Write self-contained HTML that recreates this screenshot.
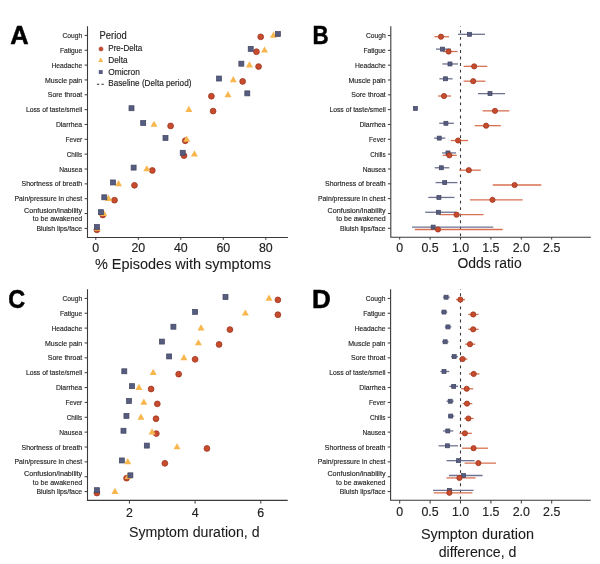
<!DOCTYPE html>
<html><head><meta charset="utf-8"><style>
html,body{margin:0;padding:0;background:#fff;width:600px;height:564px;overflow:hidden}
svg{display:block;filter:blur(0.3px)}
text{font-family:"Liberation Sans",sans-serif}
.l{font-size:7.8px;fill:#222222;stroke:#222222;stroke-width:0.15px}
.n{font-size:12.4px;fill:#222;stroke:#222;stroke-width:0.15px}
.t{font-size:14px;fill:#1a1a1a;stroke:#1a1a1a;stroke-width:0.08px}
.L{font-size:26px;font-weight:bold;fill:#000;stroke:#000;stroke-width:0.5px}
.lg1{font-size:10.5px;fill:#222;stroke:#222;stroke-width:0.15px}
.lg{font-size:8.6px;fill:#222;stroke:#222;stroke-width:0.15px}
.ax{fill:none;stroke:#3a3a3a;stroke-width:1.1}
.tk{fill:none;stroke:#3a3a3a;stroke-width:1.0}
</style></head><body>
<svg width="600" height="564" viewBox="0 0 600 564">
<path d="M87.5 26.3V237.5H287.9" class="ax"/>
<path d="M84.6 35.4H87.5M84.6 50.25H87.5M84.6 65.09H87.5M84.6 79.94H87.5M84.6 94.78H87.5M84.6 109.63H87.5M84.6 124.48H87.5M84.6 139.32H87.5M84.6 154.17H87.5M84.6 169.01H87.5M84.6 183.86H87.5M84.6 198.71H87.5M84.6 213.55H87.5M84.6 228.4H87.5" class="tk"/>
<text x="82.2" y="38" text-anchor="end" textLength="19.7" lengthAdjust="spacingAndGlyphs" class="l">Cough</text>
<text x="82.2" y="52.85" text-anchor="end" textLength="22.3" lengthAdjust="spacingAndGlyphs" class="l">Fatigue</text>
<text x="82.2" y="67.69" text-anchor="end" textLength="30.8" lengthAdjust="spacingAndGlyphs" class="l">Headache</text>
<text x="82.2" y="82.54" text-anchor="end" textLength="37.2" lengthAdjust="spacingAndGlyphs" class="l">Muscle pain</text>
<text x="82.2" y="97.38" text-anchor="end" textLength="34.4" lengthAdjust="spacingAndGlyphs" class="l">Sore throat</text>
<text x="82.2" y="112.23" text-anchor="end" textLength="56.3" lengthAdjust="spacingAndGlyphs" class="l">Loss of taste/smell</text>
<text x="82.2" y="127.08" text-anchor="end" textLength="26.3" lengthAdjust="spacingAndGlyphs" class="l">Diarrhea</text>
<text x="82.2" y="141.92" text-anchor="end" textLength="16.6" lengthAdjust="spacingAndGlyphs" class="l">Fever</text>
<text x="82.2" y="156.77" text-anchor="end" textLength="15.5" lengthAdjust="spacingAndGlyphs" class="l">Chills</text>
<text x="82.2" y="171.61" text-anchor="end" textLength="23.0" lengthAdjust="spacingAndGlyphs" class="l">Nausea</text>
<text x="82.2" y="186.46" text-anchor="end" textLength="60.7" lengthAdjust="spacingAndGlyphs" class="l">Shortness of breath</text>
<text x="82.2" y="201.31" text-anchor="end" textLength="67.7" lengthAdjust="spacingAndGlyphs" class="l">Pain/pressure in chest</text>
<text x="82.2" y="212.95" text-anchor="end" textLength="58.1" lengthAdjust="spacingAndGlyphs" class="l">Confusion/inability</text>
<text x="82.2" y="221.35" text-anchor="end" textLength="49.5" lengthAdjust="spacingAndGlyphs" class="l">to be awakened</text>
<text x="82.2" y="231" text-anchor="end" textLength="45.8" lengthAdjust="spacingAndGlyphs" class="l">Bluish lips/face</text>
<path d="M95.8 237.5v2.4M138.3 237.5v2.4M180.8 237.5v2.4M223.3 237.5v2.4M265.8 237.5v2.4" class="tk"/>
<text x="95.8" y="251.8" text-anchor="middle" class="n">0</text>
<text x="138.3" y="251.8" text-anchor="middle" class="n">20</text>
<text x="180.8" y="251.8" text-anchor="middle" class="n">40</text>
<text x="223.3" y="251.8" text-anchor="middle" class="n">60</text>
<text x="265.8" y="251.8" text-anchor="middle" class="n">80</text>
<circle cx="260.7" cy="36.85" r="2.9" fill="#c64c2d" stroke="#9e3621" stroke-width="0.8"/>
<path d="M273.45 31.56L276.95 37.75H269.95Z" fill="#f7b64e"/>
<rect x="275.41" y="31.5" width="5.0" height="5.0" fill="#575d80" stroke="#3f445e" stroke-width="0.7"/>
<circle cx="256.45" cy="51.7" r="2.9" fill="#c64c2d" stroke="#9e3621" stroke-width="0.8"/>
<path d="M264.53 46.41L268.03 52.6H261.03Z" fill="#f7b64e"/>
<rect x="248.21" y="46.35" width="5.0" height="5.0" fill="#575d80" stroke="#3f445e" stroke-width="0.7"/>
<circle cx="258.57" cy="66.54" r="2.9" fill="#c64c2d" stroke="#9e3621" stroke-width="0.8"/>
<path d="M249.44 61.25L252.94 67.45H245.94Z" fill="#f7b64e"/>
<rect x="238.86" y="61.19" width="5.0" height="5.0" fill="#575d80" stroke="#3f445e" stroke-width="0.7"/>
<circle cx="242.64" cy="81.39" r="2.9" fill="#c64c2d" stroke="#9e3621" stroke-width="0.8"/>
<path d="M233.29 76.1L236.79 82.29H229.79Z" fill="#f7b64e"/>
<rect x="216.55" y="76.04" width="5.0" height="5.0" fill="#575d80" stroke="#3f445e" stroke-width="0.7"/>
<circle cx="211.4" cy="96.23" r="2.9" fill="#c64c2d" stroke="#9e3621" stroke-width="0.8"/>
<path d="M227.98 90.94L231.48 97.14H224.48Z" fill="#f7b64e"/>
<rect x="244.81" y="90.88" width="5.0" height="5.0" fill="#575d80" stroke="#3f445e" stroke-width="0.7"/>
<circle cx="213.1" cy="111.08" r="2.9" fill="#c64c2d" stroke="#9e3621" stroke-width="0.8"/>
<path d="M188.88 105.79L192.38 111.98H185.38Z" fill="#f7b64e"/>
<rect x="129" y="105.73" width="5.0" height="5.0" fill="#575d80" stroke="#3f445e" stroke-width="0.7"/>
<circle cx="170.6" cy="125.93" r="2.9" fill="#c64c2d" stroke="#9e3621" stroke-width="0.8"/>
<path d="M154.02 120.64L157.52 126.83H150.52Z" fill="#f7b64e"/>
<rect x="140.69" y="120.58" width="5.0" height="5.0" fill="#575d80" stroke="#3f445e" stroke-width="0.7"/>
<circle cx="185.26" cy="140.77" r="2.9" fill="#c64c2d" stroke="#9e3621" stroke-width="0.8"/>
<path d="M186.75 135.48L190.25 141.68H183.25Z" fill="#f7b64e"/>
<rect x="163" y="135.42" width="5.0" height="5.0" fill="#575d80" stroke="#3f445e" stroke-width="0.7"/>
<circle cx="183.99" cy="155.62" r="2.9" fill="#c64c2d" stroke="#9e3621" stroke-width="0.8"/>
<path d="M194.4 150.33L197.9 156.52H190.9Z" fill="#f7b64e"/>
<rect x="180.21" y="150.27" width="5.0" height="5.0" fill="#575d80" stroke="#3f445e" stroke-width="0.7"/>
<circle cx="152.32" cy="170.46" r="2.9" fill="#c64c2d" stroke="#9e3621" stroke-width="0.8"/>
<path d="M146.8 165.17L150.3 171.37H143.3Z" fill="#f7b64e"/>
<rect x="131.12" y="165.11" width="5.0" height="5.0" fill="#575d80" stroke="#3f445e" stroke-width="0.7"/>
<circle cx="134.47" cy="185.31" r="2.9" fill="#c64c2d" stroke="#9e3621" stroke-width="0.8"/>
<path d="M118.54 180.02L122.04 186.21H115.04Z" fill="#f7b64e"/>
<rect x="110.51" y="179.96" width="5.0" height="5.0" fill="#575d80" stroke="#3f445e" stroke-width="0.7"/>
<circle cx="114.5" cy="200.16" r="2.9" fill="#c64c2d" stroke="#9e3621" stroke-width="0.8"/>
<path d="M108.55 194.87L112.05 201.06H105.05Z" fill="#f7b64e"/>
<rect x="101.8" y="194.81" width="5.0" height="5.0" fill="#575d80" stroke="#3f445e" stroke-width="0.7"/>
<circle cx="102.81" cy="215" r="2.9" fill="#c64c2d" stroke="#9e3621" stroke-width="0.8"/>
<path d="M103.66 209.71L107.16 215.91H100.16Z" fill="#f7b64e"/>
<rect x="98.4" y="209.65" width="5.0" height="5.0" fill="#575d80" stroke="#3f445e" stroke-width="0.7"/>
<circle cx="96.86" cy="229.85" r="2.9" fill="#c64c2d" stroke="#9e3621" stroke-width="0.8"/>
<path d="M97.29 224.56L100.79 230.75H93.79Z" fill="#f7b64e"/>
<rect x="94.36" y="224.5" width="5.0" height="5.0" fill="#575d80" stroke="#3f445e" stroke-width="0.7"/>
<path d="M87.5 289.3V500.4H287.7" class="ax"/>
<path d="M84.6 298.4H87.5M84.6 313.26H87.5M84.6 328.12H87.5M84.6 342.98H87.5M84.6 357.84H87.5M84.6 372.7H87.5M84.6 387.56H87.5M84.6 402.42H87.5M84.6 417.28H87.5M84.6 432.14H87.5M84.6 447H87.5M84.6 461.86H87.5M84.6 476.72H87.5M84.6 491.58H87.5" class="tk"/>
<text x="82.2" y="301" text-anchor="end" textLength="19.7" lengthAdjust="spacingAndGlyphs" class="l">Cough</text>
<text x="82.2" y="315.86" text-anchor="end" textLength="22.3" lengthAdjust="spacingAndGlyphs" class="l">Fatigue</text>
<text x="82.2" y="330.72" text-anchor="end" textLength="30.8" lengthAdjust="spacingAndGlyphs" class="l">Headache</text>
<text x="82.2" y="345.58" text-anchor="end" textLength="37.2" lengthAdjust="spacingAndGlyphs" class="l">Muscle pain</text>
<text x="82.2" y="360.44" text-anchor="end" textLength="34.4" lengthAdjust="spacingAndGlyphs" class="l">Sore throat</text>
<text x="82.2" y="375.3" text-anchor="end" textLength="56.3" lengthAdjust="spacingAndGlyphs" class="l">Loss of taste/smell</text>
<text x="82.2" y="390.16" text-anchor="end" textLength="26.3" lengthAdjust="spacingAndGlyphs" class="l">Diarrhea</text>
<text x="82.2" y="405.02" text-anchor="end" textLength="16.6" lengthAdjust="spacingAndGlyphs" class="l">Fever</text>
<text x="82.2" y="419.88" text-anchor="end" textLength="15.5" lengthAdjust="spacingAndGlyphs" class="l">Chills</text>
<text x="82.2" y="434.74" text-anchor="end" textLength="23.0" lengthAdjust="spacingAndGlyphs" class="l">Nausea</text>
<text x="82.2" y="449.6" text-anchor="end" textLength="60.7" lengthAdjust="spacingAndGlyphs" class="l">Shortness of breath</text>
<text x="82.2" y="464.46" text-anchor="end" textLength="67.7" lengthAdjust="spacingAndGlyphs" class="l">Pain/pressure in chest</text>
<text x="82.2" y="476.12" text-anchor="end" textLength="58.1" lengthAdjust="spacingAndGlyphs" class="l">Confusion/inability</text>
<text x="82.2" y="484.52" text-anchor="end" textLength="49.5" lengthAdjust="spacingAndGlyphs" class="l">to be awakened</text>
<text x="82.2" y="494.18" text-anchor="end" textLength="45.8" lengthAdjust="spacingAndGlyphs" class="l">Bluish lips/face</text>
<path d="M129.4 500.4v3.2M195.1 500.4v3.2M260.8 500.4v3.2" class="tk"/>
<text x="129.4" y="516.5" text-anchor="middle" class="n">2</text>
<text x="195.1" y="516.5" text-anchor="middle" class="n">4</text>
<text x="260.8" y="516.5" text-anchor="middle" class="n">6</text>
<circle cx="277.88" cy="299.85" r="2.9" fill="#c64c2d" stroke="#9e3621" stroke-width="0.8"/>
<path d="M269.01 294.56L272.51 300.75H265.51Z" fill="#f7b64e"/>
<rect x="222.99" y="294.5" width="5.0" height="5.0" fill="#575d80" stroke="#3f445e" stroke-width="0.7"/>
<circle cx="277.88" cy="314.71" r="2.9" fill="#c64c2d" stroke="#9e3621" stroke-width="0.8"/>
<path d="M245.36 309.42L248.86 315.61H241.86Z" fill="#f7b64e"/>
<rect x="192.6" y="309.36" width="5.0" height="5.0" fill="#575d80" stroke="#3f445e" stroke-width="0.7"/>
<circle cx="229.92" cy="329.57" r="2.9" fill="#c64c2d" stroke="#9e3621" stroke-width="0.8"/>
<path d="M201.01 324.28L204.51 330.47H197.51Z" fill="#f7b64e"/>
<rect x="170.92" y="324.22" width="5.0" height="5.0" fill="#575d80" stroke="#3f445e" stroke-width="0.7"/>
<circle cx="219.08" cy="344.43" r="2.9" fill="#c64c2d" stroke="#9e3621" stroke-width="0.8"/>
<path d="M198.38 339.14L201.88 345.33H194.88Z" fill="#f7b64e"/>
<rect x="159.42" y="339.08" width="5.0" height="5.0" fill="#575d80" stroke="#3f445e" stroke-width="0.7"/>
<circle cx="195.1" cy="359.29" r="2.9" fill="#c64c2d" stroke="#9e3621" stroke-width="0.8"/>
<path d="M183.93 354L187.43 360.19H180.43Z" fill="#f7b64e"/>
<rect x="166.65" y="353.94" width="5.0" height="5.0" fill="#575d80" stroke="#3f445e" stroke-width="0.7"/>
<circle cx="178.68" cy="374.15" r="2.9" fill="#c64c2d" stroke="#9e3621" stroke-width="0.8"/>
<path d="M153.18 368.86L156.68 375.05H149.68Z" fill="#f7b64e"/>
<rect x="121.81" y="368.8" width="5.0" height="5.0" fill="#575d80" stroke="#3f445e" stroke-width="0.7"/>
<circle cx="151.08" cy="389.01" r="2.9" fill="#c64c2d" stroke="#9e3621" stroke-width="0.8"/>
<path d="M138.93 383.72L142.43 389.91H135.43Z" fill="#f7b64e"/>
<rect x="129.53" y="383.66" width="5.0" height="5.0" fill="#575d80" stroke="#3f445e" stroke-width="0.7"/>
<circle cx="157.32" cy="403.87" r="2.9" fill="#c64c2d" stroke="#9e3621" stroke-width="0.8"/>
<path d="M143.85 398.58L147.35 404.77H140.35Z" fill="#f7b64e"/>
<rect x="126.57" y="398.52" width="5.0" height="5.0" fill="#575d80" stroke="#3f445e" stroke-width="0.7"/>
<circle cx="156.01" cy="418.73" r="2.9" fill="#c64c2d" stroke="#9e3621" stroke-width="0.8"/>
<path d="M140.9 413.44L144.4 419.63H137.4Z" fill="#f7b64e"/>
<rect x="123.94" y="413.38" width="5.0" height="5.0" fill="#575d80" stroke="#3f445e" stroke-width="0.7"/>
<circle cx="156.34" cy="433.59" r="2.9" fill="#c64c2d" stroke="#9e3621" stroke-width="0.8"/>
<path d="M152.07 428.3L155.57 434.49H148.57Z" fill="#f7b64e"/>
<rect x="120.99" y="428.24" width="5.0" height="5.0" fill="#575d80" stroke="#3f445e" stroke-width="0.7"/>
<circle cx="206.93" cy="448.45" r="2.9" fill="#c64c2d" stroke="#9e3621" stroke-width="0.8"/>
<path d="M177.03 443.16L180.53 449.35H173.53Z" fill="#f7b64e"/>
<rect x="144.31" y="443.1" width="5.0" height="5.0" fill="#575d80" stroke="#3f445e" stroke-width="0.7"/>
<circle cx="164.88" cy="463.31" r="2.9" fill="#c64c2d" stroke="#9e3621" stroke-width="0.8"/>
<path d="M127.76 458.02L131.26 464.21H124.26Z" fill="#f7b64e"/>
<rect x="119.34" y="457.96" width="5.0" height="5.0" fill="#575d80" stroke="#3f445e" stroke-width="0.7"/>
<circle cx="126.57" cy="478.17" r="2.9" fill="#c64c2d" stroke="#9e3621" stroke-width="0.8"/>
<path d="M128.09 472.88L131.59 479.07H124.59Z" fill="#f7b64e"/>
<rect x="127.89" y="472.82" width="5.0" height="5.0" fill="#575d80" stroke="#3f445e" stroke-width="0.7"/>
<circle cx="96.88" cy="493.03" r="2.9" fill="#c64c2d" stroke="#9e3621" stroke-width="0.8"/>
<path d="M114.95 487.74L118.45 493.93H111.45Z" fill="#f7b64e"/>
<rect x="94.38" y="487.68" width="5.0" height="5.0" fill="#575d80" stroke="#3f445e" stroke-width="0.7"/>
<path d="M390.8 26.3V237.2H590.9" class="ax"/>
<path d="M387.9 35.5H390.8M387.9 50.33H390.8M387.9 65.16H390.8M387.9 79.99H390.8M387.9 94.82H390.8M387.9 109.65H390.8M387.9 124.48H390.8M387.9 139.31H390.8M387.9 154.14H390.8M387.9 168.97H390.8M387.9 183.8H390.8M387.9 198.63H390.8M387.9 213.46H390.8M387.9 228.29H390.8" class="tk"/>
<text x="385.7" y="38.1" text-anchor="end" textLength="19.7" lengthAdjust="spacingAndGlyphs" class="l">Cough</text>
<text x="385.7" y="52.93" text-anchor="end" textLength="22.3" lengthAdjust="spacingAndGlyphs" class="l">Fatigue</text>
<text x="385.7" y="67.76" text-anchor="end" textLength="30.8" lengthAdjust="spacingAndGlyphs" class="l">Headache</text>
<text x="385.7" y="82.59" text-anchor="end" textLength="37.2" lengthAdjust="spacingAndGlyphs" class="l">Muscle pain</text>
<text x="385.7" y="97.42" text-anchor="end" textLength="34.4" lengthAdjust="spacingAndGlyphs" class="l">Sore throat</text>
<text x="385.7" y="112.25" text-anchor="end" textLength="56.3" lengthAdjust="spacingAndGlyphs" class="l">Loss of taste/smell</text>
<text x="385.7" y="127.08" text-anchor="end" textLength="26.3" lengthAdjust="spacingAndGlyphs" class="l">Diarrhea</text>
<text x="385.7" y="141.91" text-anchor="end" textLength="16.6" lengthAdjust="spacingAndGlyphs" class="l">Fever</text>
<text x="385.7" y="156.74" text-anchor="end" textLength="15.5" lengthAdjust="spacingAndGlyphs" class="l">Chills</text>
<text x="385.7" y="171.57" text-anchor="end" textLength="23.0" lengthAdjust="spacingAndGlyphs" class="l">Nausea</text>
<text x="385.7" y="186.4" text-anchor="end" textLength="60.7" lengthAdjust="spacingAndGlyphs" class="l">Shortness of breath</text>
<text x="385.7" y="201.23" text-anchor="end" textLength="67.7" lengthAdjust="spacingAndGlyphs" class="l">Pain/pressure in chest</text>
<text x="385.7" y="212.86" text-anchor="end" textLength="58.1" lengthAdjust="spacingAndGlyphs" class="l">Confusion/inability</text>
<text x="385.7" y="221.26" text-anchor="end" textLength="49.5" lengthAdjust="spacingAndGlyphs" class="l">to be awakened</text>
<text x="385.7" y="230.89" text-anchor="end" textLength="45.8" lengthAdjust="spacingAndGlyphs" class="l">Bluish lips/face</text>
<path d="M399.7 237.2v2.4M430.1 237.2v2.4M460.5 237.2v2.4M490.9 237.2v2.4M521.3 237.2v2.4M551.7 237.2v2.4" class="tk"/>
<text x="399.7" y="251.6" text-anchor="middle" class="n">0</text>
<text x="430.1" y="251.6" text-anchor="middle" class="n">0.5</text>
<text x="460.5" y="251.6" text-anchor="middle" class="n">1.0</text>
<text x="490.9" y="251.6" text-anchor="middle" class="n">1.5</text>
<text x="521.3" y="251.6" text-anchor="middle" class="n">2.0</text>
<text x="551.7" y="251.6" text-anchor="middle" class="n">2.5</text>
<path d="M460.5 26.3V237.2" stroke="#3a3a3a" stroke-width="1.1" stroke-dasharray="2.9 3.65" stroke-dashoffset="2.5" fill="none"/>
<path d="M458.01 34.3H485" stroke="#6d7290" stroke-width="1.3"/>
<path d="M434.42 36.7H449.01" stroke="#d7714f" stroke-width="1.3"/>
<rect x="467.62" y="32.3" width="4.0" height="4.0" fill="#575d80" stroke="#3f445e" stroke-width="0.7"/>
<circle cx="440.98" cy="36.7" r="2.6" fill="#c64c2d" stroke="#9e3621" stroke-width="0.8"/>
<path d="M436 49.13H451.02" stroke="#6d7290" stroke-width="1.3"/>
<path d="M442.99 51.53H457.58" stroke="#d7714f" stroke-width="1.3"/>
<rect x="440.62" y="47.13" width="4.0" height="4.0" fill="#575d80" stroke="#3f445e" stroke-width="0.7"/>
<circle cx="448.58" cy="51.53" r="2.6" fill="#c64c2d" stroke="#9e3621" stroke-width="0.8"/>
<path d="M442.38 63.96H458.01" stroke="#6d7290" stroke-width="1.3"/>
<path d="M463.6 66.36H487.37" stroke="#d7714f" stroke-width="1.3"/>
<rect x="447.98" y="61.96" width="4.0" height="4.0" fill="#575d80" stroke="#3f445e" stroke-width="0.7"/>
<circle cx="474.18" cy="66.36" r="2.6" fill="#c64c2d" stroke="#9e3621" stroke-width="0.8"/>
<path d="M439.4 78.79H452.6" stroke="#6d7290" stroke-width="1.3"/>
<path d="M463.6 81.19H485.43" stroke="#d7714f" stroke-width="1.3"/>
<rect x="443.6" y="76.79" width="4.0" height="4.0" fill="#575d80" stroke="#3f445e" stroke-width="0.7"/>
<circle cx="473.21" cy="81.19" r="2.6" fill="#c64c2d" stroke="#9e3621" stroke-width="0.8"/>
<path d="M478.01 93.62H505.01" stroke="#6d7290" stroke-width="1.3"/>
<path d="M438 96.02H451.02" stroke="#d7714f" stroke-width="1.3"/>
<rect x="487.99" y="91.62" width="4.0" height="4.0" fill="#575d80" stroke="#3f445e" stroke-width="0.7"/>
<circle cx="444.02" cy="96.02" r="2.6" fill="#c64c2d" stroke="#9e3621" stroke-width="0.8"/>
<path d="M414.9 108.45H415.87" stroke="#6d7290" stroke-width="1.3"/>
<path d="M482.57 110.85H509.38" stroke="#d7714f" stroke-width="1.3"/>
<rect x="413.39" y="106.45" width="4.0" height="4.0" fill="#575d80" stroke="#3f445e" stroke-width="0.7"/>
<circle cx="494.97" cy="110.85" r="2.6" fill="#c64c2d" stroke="#9e3621" stroke-width="0.8"/>
<path d="M439.22 123.28H453.87" stroke="#6d7290" stroke-width="1.3"/>
<path d="M474.73 125.68H500.81" stroke="#d7714f" stroke-width="1.3"/>
<rect x="443.91" y="121.28" width="4.0" height="4.0" fill="#575d80" stroke="#3f445e" stroke-width="0.7"/>
<circle cx="486.1" cy="125.68" r="2.6" fill="#c64c2d" stroke="#9e3621" stroke-width="0.8"/>
<path d="M434.11 138.11H445.3" stroke="#6d7290" stroke-width="1.3"/>
<path d="M450.71 140.51H467.98" stroke="#d7714f" stroke-width="1.3"/>
<rect x="437.22" y="136.11" width="4.0" height="4.0" fill="#575d80" stroke="#3f445e" stroke-width="0.7"/>
<circle cx="458.07" cy="140.51" r="2.6" fill="#c64c2d" stroke="#9e3621" stroke-width="0.8"/>
<path d="M442.08 152.94H456" stroke="#6d7290" stroke-width="1.3"/>
<path d="M442.69 155.34H456.79" stroke="#d7714f" stroke-width="1.3"/>
<rect x="445.98" y="150.94" width="4.0" height="4.0" fill="#575d80" stroke="#3f445e" stroke-width="0.7"/>
<circle cx="449.31" cy="155.34" r="2.6" fill="#c64c2d" stroke="#9e3621" stroke-width="0.8"/>
<path d="M434.72 167.77H449.31" stroke="#6d7290" stroke-width="1.3"/>
<path d="M459.22 170.17H480.81" stroke="#d7714f" stroke-width="1.3"/>
<rect x="439.29" y="165.77" width="4.0" height="4.0" fill="#575d80" stroke="#3f445e" stroke-width="0.7"/>
<circle cx="468.83" cy="170.17" r="2.6" fill="#c64c2d" stroke="#9e3621" stroke-width="0.8"/>
<path d="M435.57 182.6H457.46" stroke="#6d7290" stroke-width="1.3"/>
<path d="M492.78 185H541.3" stroke="#d7714f" stroke-width="1.3"/>
<rect x="442.69" y="180.6" width="4.0" height="4.0" fill="#575d80" stroke="#3f445e" stroke-width="0.7"/>
<circle cx="514.61" cy="185" r="2.6" fill="#c64c2d" stroke="#9e3621" stroke-width="0.8"/>
<path d="M428.28 197.43H454.42" stroke="#6d7290" stroke-width="1.3"/>
<path d="M469.92 199.83H522.7" stroke="#d7714f" stroke-width="1.3"/>
<rect x="436.92" y="195.43" width="4.0" height="4.0" fill="#575d80" stroke="#3f445e" stroke-width="0.7"/>
<circle cx="492.48" cy="199.83" r="2.6" fill="#c64c2d" stroke="#9e3621" stroke-width="0.8"/>
<path d="M425.24 212.26H456" stroke="#6d7290" stroke-width="1.3"/>
<path d="M439.52 214.66H483.48" stroke="#d7714f" stroke-width="1.3"/>
<rect x="436.43" y="210.26" width="4.0" height="4.0" fill="#575d80" stroke="#3f445e" stroke-width="0.7"/>
<circle cx="456.55" cy="214.66" r="2.6" fill="#c64c2d" stroke="#9e3621" stroke-width="0.8"/>
<path d="M411.98 227.09H493.27" stroke="#6d7290" stroke-width="1.3"/>
<path d="M414.72 229.49H502.7" stroke="#d7714f" stroke-width="1.3"/>
<rect x="431.14" y="225.09" width="4.0" height="4.0" fill="#575d80" stroke="#3f445e" stroke-width="0.7"/>
<circle cx="438" cy="229.49" r="2.6" fill="#c64c2d" stroke="#9e3621" stroke-width="0.8"/>
<path d="M390.6 289.3V500.3H590.8" class="ax"/>
<path d="M387.7 298.4H390.6M387.7 313.26H390.6M387.7 328.12H390.6M387.7 342.98H390.6M387.7 357.84H390.6M387.7 372.7H390.6M387.7 387.56H390.6M387.7 402.42H390.6M387.7 417.28H390.6M387.7 432.14H390.6M387.7 447H390.6M387.7 461.86H390.6M387.7 476.72H390.6M387.7 491.58H390.6" class="tk"/>
<text x="385.5" y="301" text-anchor="end" textLength="19.7" lengthAdjust="spacingAndGlyphs" class="l">Cough</text>
<text x="385.5" y="315.86" text-anchor="end" textLength="22.3" lengthAdjust="spacingAndGlyphs" class="l">Fatigue</text>
<text x="385.5" y="330.72" text-anchor="end" textLength="30.8" lengthAdjust="spacingAndGlyphs" class="l">Headache</text>
<text x="385.5" y="345.58" text-anchor="end" textLength="37.2" lengthAdjust="spacingAndGlyphs" class="l">Muscle pain</text>
<text x="385.5" y="360.44" text-anchor="end" textLength="34.4" lengthAdjust="spacingAndGlyphs" class="l">Sore throat</text>
<text x="385.5" y="375.3" text-anchor="end" textLength="56.3" lengthAdjust="spacingAndGlyphs" class="l">Loss of taste/smell</text>
<text x="385.5" y="390.16" text-anchor="end" textLength="26.3" lengthAdjust="spacingAndGlyphs" class="l">Diarrhea</text>
<text x="385.5" y="405.02" text-anchor="end" textLength="16.6" lengthAdjust="spacingAndGlyphs" class="l">Fever</text>
<text x="385.5" y="419.88" text-anchor="end" textLength="15.5" lengthAdjust="spacingAndGlyphs" class="l">Chills</text>
<text x="385.5" y="434.74" text-anchor="end" textLength="23.0" lengthAdjust="spacingAndGlyphs" class="l">Nausea</text>
<text x="385.5" y="449.6" text-anchor="end" textLength="60.7" lengthAdjust="spacingAndGlyphs" class="l">Shortness of breath</text>
<text x="385.5" y="464.46" text-anchor="end" textLength="67.7" lengthAdjust="spacingAndGlyphs" class="l">Pain/pressure in chest</text>
<text x="385.5" y="476.12" text-anchor="end" textLength="58.1" lengthAdjust="spacingAndGlyphs" class="l">Confusion/inability</text>
<text x="385.5" y="484.52" text-anchor="end" textLength="49.5" lengthAdjust="spacingAndGlyphs" class="l">to be awakened</text>
<text x="385.5" y="494.18" text-anchor="end" textLength="45.8" lengthAdjust="spacingAndGlyphs" class="l">Bluish lips/face</text>
<path d="M399.7 500.3v3.2M430.1 500.3v3.2M460.5 500.3v3.2M490.9 500.3v3.2M521.3 500.3v3.2M551.7 500.3v3.2" class="tk"/>
<text x="399.7" y="516.4" text-anchor="middle" class="n">0</text>
<text x="430.1" y="516.4" text-anchor="middle" class="n">0.5</text>
<text x="460.5" y="516.4" text-anchor="middle" class="n">1.0</text>
<text x="490.9" y="516.4" text-anchor="middle" class="n">1.5</text>
<text x="521.3" y="516.4" text-anchor="middle" class="n">2.0</text>
<text x="551.7" y="516.4" text-anchor="middle" class="n">2.5</text>
<path d="M460.5 289.3V500.3" stroke="#3a3a3a" stroke-width="1.1" stroke-dasharray="2.9 3.65" stroke-dashoffset="2.5" fill="none"/>
<path d="M442.99 297.2H449.8" stroke="#6d7290" stroke-width="1.3"/>
<path d="M456 299.6H465" stroke="#d7714f" stroke-width="1.3"/>
<rect x="444.09" y="295.2" width="4.0" height="4.0" fill="#575d80" stroke="#3f445e" stroke-width="0.7"/>
<circle cx="460.38" cy="299.6" r="2.6" fill="#c64c2d" stroke="#9e3621" stroke-width="0.8"/>
<path d="M440.98 312.06H447.31" stroke="#6d7290" stroke-width="1.3"/>
<path d="M468.22 314.46H478.62" stroke="#d7714f" stroke-width="1.3"/>
<rect x="442.02" y="310.06" width="4.0" height="4.0" fill="#575d80" stroke="#3f445e" stroke-width="0.7"/>
<circle cx="473.21" cy="314.46" r="2.6" fill="#c64c2d" stroke="#9e3621" stroke-width="0.8"/>
<path d="M444.87 326.92H451.38" stroke="#6d7290" stroke-width="1.3"/>
<path d="M468.22 329.32H478.62" stroke="#d7714f" stroke-width="1.3"/>
<rect x="445.98" y="324.92" width="4.0" height="4.0" fill="#575d80" stroke="#3f445e" stroke-width="0.7"/>
<circle cx="473.21" cy="329.32" r="2.6" fill="#c64c2d" stroke="#9e3621" stroke-width="0.8"/>
<path d="M442.08 341.78H448.58" stroke="#6d7290" stroke-width="1.3"/>
<path d="M465.3 344.18H475.27" stroke="#d7714f" stroke-width="1.3"/>
<rect x="443.18" y="339.78" width="4.0" height="4.0" fill="#575d80" stroke="#3f445e" stroke-width="0.7"/>
<circle cx="469.98" cy="344.18" r="2.6" fill="#c64c2d" stroke="#9e3621" stroke-width="0.8"/>
<path d="M451.02 356.64H458.01" stroke="#6d7290" stroke-width="1.3"/>
<path d="M458.98 359.04H467.37" stroke="#d7714f" stroke-width="1.3"/>
<rect x="452.18" y="354.64" width="4.0" height="4.0" fill="#575d80" stroke="#3f445e" stroke-width="0.7"/>
<circle cx="462.63" cy="359.04" r="2.6" fill="#c64c2d" stroke="#9e3621" stroke-width="0.8"/>
<path d="M440.38 371.5H449.25" stroke="#6d7290" stroke-width="1.3"/>
<path d="M468.83 373.9H479.41" stroke="#d7714f" stroke-width="1.3"/>
<rect x="442.02" y="369.5" width="4.0" height="4.0" fill="#575d80" stroke="#3f445e" stroke-width="0.7"/>
<circle cx="473.69" cy="373.9" r="2.6" fill="#c64c2d" stroke="#9e3621" stroke-width="0.8"/>
<path d="M449.31 386.36H458.07" stroke="#6d7290" stroke-width="1.3"/>
<path d="M461.17 388.76H473.21" stroke="#d7714f" stroke-width="1.3"/>
<rect x="451.69" y="384.36" width="4.0" height="4.0" fill="#575d80" stroke="#3f445e" stroke-width="0.7"/>
<circle cx="466.7" cy="388.76" r="2.6" fill="#c64c2d" stroke="#9e3621" stroke-width="0.8"/>
<path d="M446.58 401.22H453.69" stroke="#6d7290" stroke-width="1.3"/>
<path d="M462.63 403.62H472.3" stroke="#d7714f" stroke-width="1.3"/>
<rect x="448.22" y="399.22" width="4.0" height="4.0" fill="#575d80" stroke="#3f445e" stroke-width="0.7"/>
<circle cx="467.01" cy="403.62" r="2.6" fill="#c64c2d" stroke="#9e3621" stroke-width="0.8"/>
<path d="M447.98 416.08H454.18" stroke="#6d7290" stroke-width="1.3"/>
<path d="M464.3 418.48H473.69" stroke="#d7714f" stroke-width="1.3"/>
<rect x="448.71" y="414.08" width="4.0" height="4.0" fill="#575d80" stroke="#3f445e" stroke-width="0.7"/>
<circle cx="468.4" cy="418.48" r="2.6" fill="#c64c2d" stroke="#9e3621" stroke-width="0.8"/>
<path d="M442.99 430.94H453.33" stroke="#6d7290" stroke-width="1.3"/>
<path d="M459.41 433.34H471.81" stroke="#d7714f" stroke-width="1.3"/>
<rect x="445.79" y="428.94" width="4.0" height="4.0" fill="#575d80" stroke="#3f445e" stroke-width="0.7"/>
<circle cx="464.88" cy="433.34" r="2.6" fill="#c64c2d" stroke="#9e3621" stroke-width="0.8"/>
<path d="M438.61 445.8H458.01" stroke="#6d7290" stroke-width="1.3"/>
<path d="M462.02 448.2H487.98" stroke="#d7714f" stroke-width="1.3"/>
<rect x="445.43" y="443.8" width="4.0" height="4.0" fill="#575d80" stroke="#3f445e" stroke-width="0.7"/>
<circle cx="473.57" cy="448.2" r="2.6" fill="#c64c2d" stroke="#9e3621" stroke-width="0.8"/>
<path d="M446.58 460.66H474.61" stroke="#6d7290" stroke-width="1.3"/>
<path d="M464.57 463.06H496.01" stroke="#d7714f" stroke-width="1.3"/>
<rect x="456.62" y="458.66" width="4.0" height="4.0" fill="#575d80" stroke="#3f445e" stroke-width="0.7"/>
<circle cx="478.38" cy="463.06" r="2.6" fill="#c64c2d" stroke="#9e3621" stroke-width="0.8"/>
<path d="M449.01 475.52H482.57" stroke="#6d7290" stroke-width="1.3"/>
<path d="M446.58 477.92H475.58" stroke="#d7714f" stroke-width="1.3"/>
<rect x="461.6" y="473.52" width="4.0" height="4.0" fill="#575d80" stroke="#3f445e" stroke-width="0.7"/>
<circle cx="459.41" cy="477.92" r="2.6" fill="#c64c2d" stroke="#9e3621" stroke-width="0.8"/>
<path d="M433.02 490.38H473.57" stroke="#6d7290" stroke-width="1.3"/>
<path d="M433.63 492.78H472.42" stroke="#d7714f" stroke-width="1.3"/>
<rect x="447.37" y="488.38" width="4.0" height="4.0" fill="#575d80" stroke="#3f445e" stroke-width="0.7"/>
<circle cx="449.37" cy="492.78" r="2.6" fill="#c64c2d" stroke="#9e3621" stroke-width="0.8"/>
<text transform="translate(10.2 43.6) scale(0.98 1)" class="L">A</text>
<text transform="translate(312.6 43.6) scale(0.86 1)" class="L">B</text>
<text transform="translate(8.3 308) scale(0.9 1)" class="L">C</text>
<text transform="translate(311.9 308) scale(1.0 1)" class="L">D</text>
<text x="95" y="269" textLength="176" lengthAdjust="spacingAndGlyphs" class="t">% Episodes with symptoms</text>
<text x="457.5" y="268.3" textLength="64.2" lengthAdjust="spacingAndGlyphs" class="t">Odds ratio</text>
<text x="129" y="537" textLength="130.5" lengthAdjust="spacingAndGlyphs" class="t">Symptom duration, d</text>
<text x="421" y="539" textLength="113" lengthAdjust="spacingAndGlyphs" class="t">Sympton duration</text>
<text x="438.7" y="556.6" textLength="77.7" lengthAdjust="spacingAndGlyphs" class="t">difference, d</text>
<text x="99.5" y="38.75" textLength="27.2" lengthAdjust="spacingAndGlyphs" class="lg1">Period</text>
<circle cx="101" cy="49" r="2.1" fill="#c64c2d" stroke="#9e3621" stroke-width="0.5"/>
<text x="108.3" y="50.7" textLength="34" lengthAdjust="spacingAndGlyphs" class="lg">Pre-Delta</text>
<path d="M100.7 57.6L103.2 61.9H98.2Z" fill="#f7b64e"/>
<text x="108.3" y="62.6" textLength="19.3" lengthAdjust="spacingAndGlyphs" class="lg">Delta</text>
<rect x="98.8" y="70.1" width="3.9" height="3.9" fill="#575d80"/>
<text x="108.3" y="74.5" textLength="31.6" lengthAdjust="spacingAndGlyphs" class="lg">Omicron</text>
<path d="M96.9 84.3h2.3M101.5 84.3h2.3" stroke="#333" stroke-width="1.1"/>
<text x="108.3" y="86.4" textLength="83.1" lengthAdjust="spacingAndGlyphs" class="lg">Baseline (Delta period)</text>
</svg>
</body></html>
